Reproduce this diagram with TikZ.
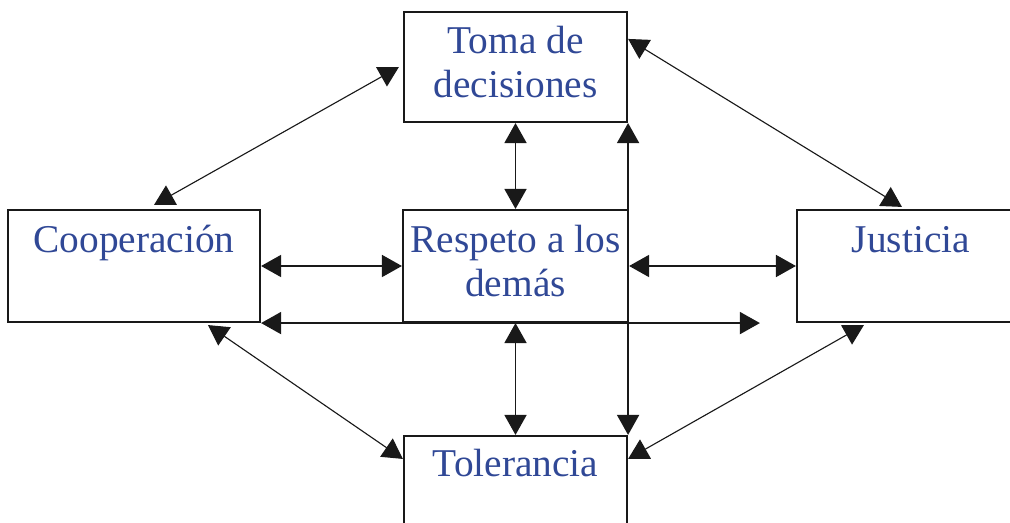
\documentclass[tikz,border=0pt]{standalone}
\usepackage{fontspec}
\setmainfont{Liberation Serif}
\usetikzlibrary{arrows.meta}
\definecolor{txtblue}{RGB}{48,72,150}
\definecolor{linegray}{RGB}{25,25,25}
\tikzset{
  caja/.style={draw=linegray, line width=1.5pt, align=center, text=txtblue,
    font=\fontsize{28}{31}\selectfont, inner sep=0pt},
  flecha/.style={{Triangle[length=0.5cm,width=0.55cm]}-{Triangle[length=0.5cm,width=0.55cm]},
    line width=1.2pt, draw=linegray},
  diag/.style={flecha, line width=0.8pt}
}

\begin{document}
\begin{tikzpicture}[x=0.025cm, y=-0.025cm]
    \useasboundingbox (0,0) rectangle (1010,523);

    % Boxes
    \node[caja, minimum width=5.575cm, minimum height=2.75cm] (toma) at (515.5,67)
        {Toma de\strut\\decisiones\strut};
    \node[caja, minimum width=6.3cm, minimum height=2.8cm] (coop) at (134,266)
        {Cooperación\strut\\\strut};
    \node[caja, minimum width=5.625cm, minimum height=2.8cm] (resp) at (515.5,266)
        {Respeto a los\strut\\demás\strut};
    \node[caja, minimum width=5.7cm, minimum height=2.8cm] (just) at (911,266)
        {Justicia\strut\\\strut};
    \node[caja, minimum width=5.575cm, minimum height=2.7cm] (tol) at (515.5,490)
        {Tolerancia\strut\\\strut};

    % Straight arrows
    \draw[flecha] (toma.south) -- (resp.north);
    \draw[flecha] (resp.south) -- (tol.north);
    \draw[flecha] (coop.east) -- (resp.west);
    \draw[flecha] (resp.east) -- (just.west);
    \draw[flecha] (coop.south east) -- ([xshift=-0.9cm]just.south west);
    \draw[flecha] (toma.south east) -- (tol.north east);

    % Diagonal arrows
    \draw[diag] ([xshift=-0.1cm]toma.west) -- ([xshift=0.5cm,yshift=0.1cm]coop.north);
    \draw[diag] ([yshift=-0.7cm]toma.north east) -- ([xshift=2.65cm,yshift=0.05cm]just.north west);
    \draw[diag] ([xshift=1.85cm,yshift=-0.05cm]coop.south) -- ([yshift=-0.6cm]tol.north west);
    \draw[diag] ([xshift=1.7cm,yshift=-0.05cm]just.south west) -- ([yshift=-0.6cm]tol.north east);

\end{tikzpicture}
\end{document}
